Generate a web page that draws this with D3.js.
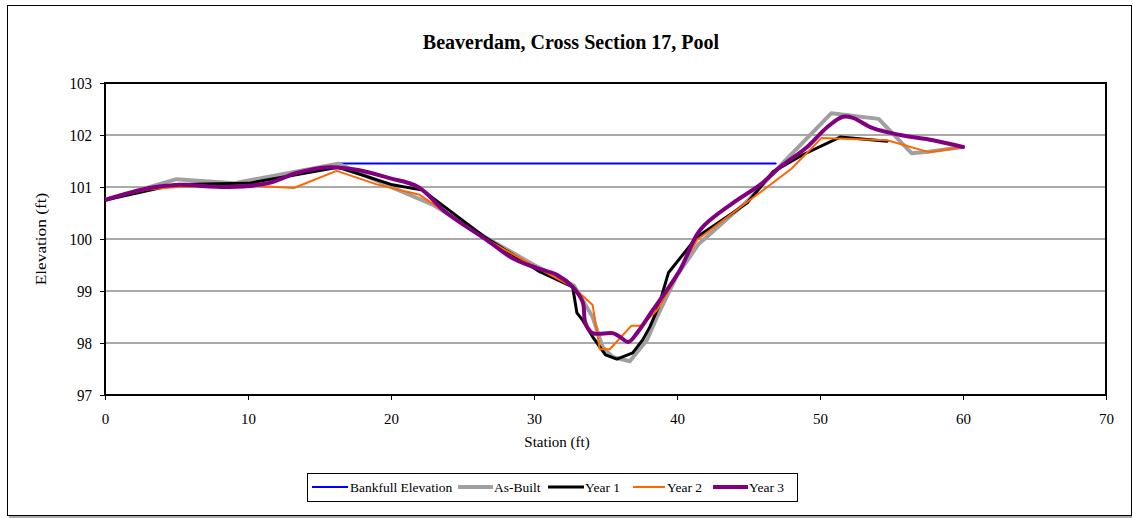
<!DOCTYPE html>
<html><head><meta charset="utf-8">
<script src="https://cdn.jsdelivr.net/npm/d3@7"></script>
<style>body{margin:0;background:#fff;} svg{display:block;font-family:"Liberation Serif","Times New Roman",serif;}</style>
</head><body>
<script>
const title = "Beaverdam, Cross Section 17, Pool";
const xTicks = [0,10,20,30,40,50,60,70];
const yTicks = [97,98,99,100,101,102,103];
const bankfull = [[16.3,101.45],[46.9,101.45]];
const asBuilt = [[0,100.75],[5,101.15],[9,101.07],[16.3,101.45],[20,101.0],[23,100.65],[26.5,100.05],[30,99.5],[32.8,99.1],[34.1,98.5],[34.8,97.92],[35.5,97.73],[36.7,97.65],[37.9,98.06],[38.6,98.5],[40,99.3],[41.5,99.9],[45,100.75],[47,101.35],[50.8,102.42],[54.1,102.31],[56.4,101.65],[57.6,101.68],[60,101.77]];
const year1 = [[0,100.75],[5,101.05],[10,101.07],[16.3,101.38],[20,101.05],[22.2,100.94],[26.5,100.05],[30.4,99.37],[32.7,99.08],[33.0,98.58],[33.4,98.44],[34.1,98.12],[35.0,97.77],[35.8,97.69],[36.9,97.81],[37.6,98.06],[38.1,98.31],[38.7,98.69],[39.4,99.35],[41.4,100.04],[44.9,100.69],[46.7,101.29],[48.8,101.62],[51.4,101.96],[54.7,101.88]];
const year2 = [[0,100.78],[3,100.95],[5,101.0],[10,101.03],[13.2,100.98],[16.2,101.31],[19,101.05],[22,100.85],[26.5,100.02],[30,99.48],[32.7,99.08],[34.1,98.73],[34.6,97.88],[35.3,97.88],[36.8,98.33],[37.5,98.33],[38.6,98.63],[39.5,99.05],[40.5,99.55],[41.4,99.98],[45.1,100.75],[48,101.35],[50.1,101.94],[54.7,101.9],[57.6,101.67],[60,101.77]];
const year3 = [[0,100.75],[3.1,100.98],[5,101.04],[8.7,101.0],[11.5,101.08],[13.4,101.27],[15.7,101.38],[17.6,101.33],[19.9,101.17],[21.9,101.0],[23.9,100.5],[26.7,99.98],[28.5,99.63],[30.2,99.44],[31.6,99.31],[32.7,99.08],[33.4,98.79],[33.6,98.38],[34.1,98.19],[35.5,98.19],[36.0,98.12],[36.6,98.02],[37.2,98.19],[38.3,98.63],[40.2,99.4],[41.6,100.17],[43.9,100.69],[45.8,101.04],[47.2,101.38],[49.1,101.77],[50.5,102.15],[51.6,102.35],[52.3,102.33],[53.7,102.13],[55.6,102.0],[57.9,101.9],[60,101.77]];

const series = [
  {name:"Bankfull Elevation", data:bankfull, color:"#0000ff", w:2, smooth:false, lx:312, lx2:348, tx:350},
  {name:"As-Built", data:asBuilt, color:"#a0a0a0", w:4, smooth:false, lx:458, lx2:493, tx:494},
  {name:"Year 1", data:year1, color:"#000000", w:3, smooth:false, lx:548, lx2:584, tx:585},
  {name:"Year 2", data:year2, color:"#ff6600", w:2, smooth:false, lx:633, lx2:665, tx:667},
  {name:"Year 3", data:year3, color:"#800080", w:4, smooth:true, lx:713, lx2:748, tx:749}
];

const W=1133,H=518;
const svg=d3.select("body").append("svg").attr("width",W).attr("height",H);
svg.append("rect").attr("x",7.5).attr("y",5.5).attr("width",1124).attr("height",510).attr("fill","#fff").attr("stroke","#000").attr("stroke-width",1);
svg.append("line").attr("x1",9).attr("x2",1132).attr("y1",517).attr("y2",517).attr("stroke","#555").attr("stroke-width",1);

const L=105,R=1106,T=83,B=395;
const x=d3.scaleLinear().domain([0,70]).range([L,R]);
const y=d3.scaleLinear().domain([97,103]).range([B,T]);

svg.append("text").attr("x",571).attr("y",49).attr("text-anchor","middle").attr("font-weight","bold").attr("font-size","20px").text(title);

// grid
svg.append("g").selectAll("line").data(yTicks.filter(d=>d>97&&d<103)).join("line")
  .attr("x1",L).attr("x2",R).attr("y1",d=>y(d)).attr("y2",d=>y(d)).attr("stroke","#555").attr("stroke-width",1);

// axes
const gx=svg.append("g").attr("transform",`translate(0,${B})`)
  .call(d3.axisBottom(x).tickValues(xTicks).tickSize(5).tickPadding(13).tickFormat(d3.format("d")));
const gy=svg.append("g").attr("transform",`translate(${L},0)`)
  .call(d3.axisLeft(y).tickValues(yTicks).tickSize(5).tickPadding(8).tickFormat(d3.format("d")));
[gx,gy].forEach(g=>{g.select(".domain").remove();g.selectAll("text").attr("font-size","15px").attr("font-family","Liberation Serif").attr("fill","#000");g.selectAll("line").attr("stroke","#000");});
gy.selectAll(".tick text").attr("transform","scale(1,1.15)");

svg.append("rect").attr("x",L).attr("y",T).attr("width",R-L).attr("height",B-T).attr("fill","none").attr("stroke","#000").attr("stroke-width",2);

svg.append("clipPath").attr("id","clip").append("rect").attr("x",L).attr("y",T).attr("width",R-L).attr("height",B-T);
const gl=svg.append("g").attr("clip-path","url(#clip)");
series.forEach(s=>{
  const line=d3.line().x(d=>x(d[0])).y(d=>y(d[1])).curve(s.smooth?d3.curveCatmullRom.alpha(0.5):d3.curveLinear);
  gl.append("path").datum(s.data).attr("d",line).attr("fill","none").attr("stroke",s.color).attr("stroke-width",s.w).attr("stroke-linejoin","round").attr("stroke-linecap","round");
});

svg.append("text").attr("x",557).attr("y",447).attr("text-anchor","middle").attr("font-size","15px").text("Station (ft)");
svg.append("text").attr("transform",`translate(46,${(T+B)/2}) rotate(-90) scale(1.15,1)`).attr("text-anchor","middle").attr("font-size","15px").text("Elevation (ft)");

// legend
svg.append("rect").attr("x",307.5).attr("y",473.5).attr("width",490).attr("height",28).attr("fill","#fff").attr("stroke","#000").attr("stroke-width",1);
const ly=487;
series.forEach(s=>{
  svg.append("line").attr("x1",s.lx).attr("x2",s.lx2).attr("y1",ly).attr("y2",ly).attr("stroke",s.color).attr("stroke-width",s.w);
  svg.append("text").attr("x",s.tx).attr("y",ly+5).attr("font-size","13.5px").text(s.name);
});
</script>
</body></html>
